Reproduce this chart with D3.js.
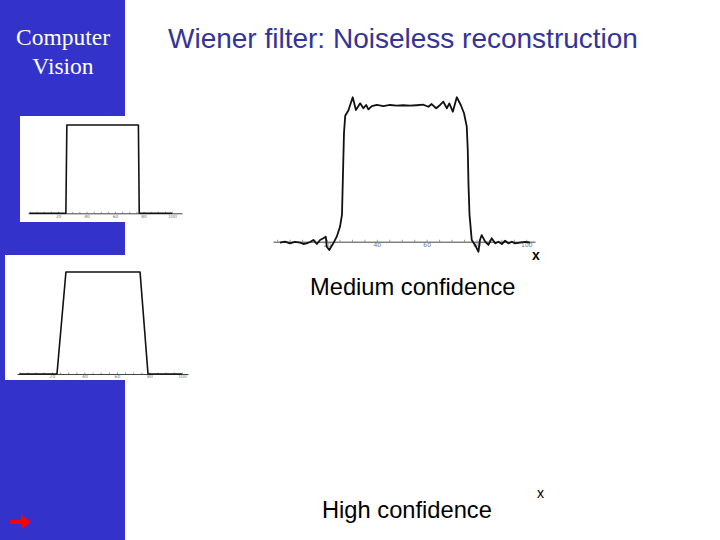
<!DOCTYPE html>
<html>
<head>
<meta charset="utf-8">
<script src="https://cdn.jsdelivr.net/npm/d3@7"></script>
<style>
  body { margin: 0; background: #fff; }
  svg { display: block; }
</style>
</head>
<body>
<svg id="slide" width="720" height="540"></svg>
<script>
// ---- data ----
const tickLabels = [20, 40, 60, 80, 100];
const minorTicks = d3.range(0, 105, 5);

// ideal box (top left plot)
const idealX = [0, 25.5, 26.2, 76.4, 77, 100];
const idealY = [0, 0, 1, 1, 0, 0];

// low-confidence reconstruction (trapezoid, lower left plot)
const lowX = [0, 23.1, 28.6, 74.2, 79.1, 100];
const lowY = [0, 0, 1, 1, 0, 0];

// medium confidence reconstruction (ringing at the edges)
const mediumX = [1.1, 3.1, 5.1, 7.1, 9.2, 10.5, 11.8, 13.2, 14.5, 15.9, 17.2, 18.5, 19.5, 19.9,
  20.9, 22.5, 23.9, 25.2, 26.0, 26.4, 26.8, 27.3, 28.6, 30.3, 31.6, 33.3, 34.6, 35.7, 36.6,
  38.0, 40.0, 42.6, 45.3, 48.0, 50.6, 53.3, 56.0, 58.7, 60.7, 62.0, 63.8, 65.4, 66.7, 68.1,
  69.1, 70.5, 72.1, 73.7, 75.0, 76.1, 76.5, 76.8, 77.2, 78.1, 79.4, 80.8, 81.4, 82.1, 83.5,
  84.8, 86.1, 87.5, 88.8, 90.2, 91.5, 92.8, 94.2, 95.5, 97.5, 99.5, 101.5];
const mediumY = [-0.007, 0, -0.012, -0.002, -0.007, -0.017, -0.012, -0.002, 0.013, -0.017, 0.013,
  0.025, 0.037, -0.037, -0.061, -0.012, 0.037, 0.11, 0.20, 0.50, 0.80, 0.93, 0.97, 1.066, 0.972,
  1.021, 0.985, 1.009, 0.977, 1.001, 1.009, 1.001, 1.009, 1.004, 1.007, 1.004, 1.007, 1.011,
  0.996, 1.016, 0.985, 1.009, 1.033, 0.985, 1.021, 0.959, 1.066, 1.009, 0.948, 0.849, 0.68,
  0.42, 0.20, 0.013, -0.024, -0.074, 0.013, 0.049, 0, -0.024, 0.025, -0.012, 0, -0.017, 0.007,
  -0.012, 0, -0.012, -0.007, -0.002, -0.007];

const svg = d3.select('#slide');

// left sidebar
svg.append('rect').attr('x', 0).attr('y', 0).attr('width', 125).attr('height', 540)
  .attr('fill', '#3333cc');

svg.append('text')
  .attr('x', 63).attr('y', 45)
  .attr('text-anchor', 'middle')
  .attr('font-family', 'Liberation Serif, Times New Roman, serif')
  .attr('font-size', 23.5).attr('fill', '#fff')
  .selectAll('tspan').data(['Computer', 'Vision']).enter().append('tspan')
  .attr('x', 63).attr('dy', (d, i) => i ? 29 : 0)
  .text(d => d);

// red arrow bottom left
svg.append('path')
  .attr('d', 'M10,520 L21,520 L21,514.5 L31,522 L21,529.5 L21,524 L10,524 Z')
  .attr('fill', '#ff0000');

// title
svg.append('text')
  .attr('x', 168).attr('y', 48)
  .attr('font-family', 'Liberation Sans, Arial, sans-serif')
  .attr('font-size', 28).attr('fill', '#333399')
  .text('Wiener filter: Noiseless reconstruction');

function drawPlot(cfg, xs, ys) {
  const g = svg.append('g');
  if (cfg.box) {
    g.append('rect').attr('x', cfg.box[0]).attr('y', cfg.box[1])
      .attr('width', cfg.box[2]).attr('height', cfg.box[3]).attr('fill', '#fff');
  }
  const x = d3.scaleLinear().domain(cfg.xDomain).range(cfg.xRange);
  const y = d3.scaleLinear().domain([0, 1]).range(cfg.yRange);

  // minor ticks (pointing up)
  const minor = g.append('g').attr('transform', `translate(0,${cfg.yRange[0]})`)
    .call(d3.axisBottom(x).tickValues(minorTicks).tickSize(-cfg.tick).tickFormat(''));
  minor.select('.domain').remove();
  minor.selectAll('line').attr('stroke', '#999');

  const axis = g.append('g').attr('transform', `translate(0,${cfg.yRange[0]})`)
    .call(d3.axisBottom(x).tickValues(tickLabels).tickSize(0).tickPadding(cfg.pad)
      .tickSizeOuter(0));
  axis.select('.domain').attr('stroke', '#444').attr('stroke-width', 1);
  axis.selectAll('text').attr('font-size', cfg.font).attr('fill', '#777')
    .attr('font-family', 'DejaVu Sans, sans-serif');

  const line = d3.line().x(d => x(d[0])).y(d => y(d[1]));
  g.append('path').datum(d3.zip(xs, ys))
    .attr('d', line).attr('fill', 'none')
    .attr('stroke', '#111').attr('stroke-width', cfg.sw)
    .attr('stroke-linejoin', 'round');
}

drawPlot({ box: [20, 116, 165, 106], xDomain: [-1, 107], xRange: [28.1, 182],
  yRange: [213.3, 125], tick: 1.5, pad: 1.5, font: 4.5, sw: 1.6 }, idealX, idealY);
drawPlot({ box: [5, 255, 183, 125], xDomain: [-1.5, 103.7], xRange: [17, 188],
  yRange: [374, 272], tick: 1.5, pad: 0.5, font: 4.5, sw: 1.6 }, lowX, lowY);
drawPlot({ xDomain: [-1.7, 103.5], xRange: [273, 535],
  yRange: [241.7, 106.2], tick: 2, pad: 1.5, font: 6, sw: 1.8 }, mediumX, mediumY);

// labels
const sans = 'Liberation Sans, Arial, sans-serif';
svg.append('text').attr('x', 310).attr('y', 295).attr('font-family', sans)
  .attr('font-size', 23.7).attr('fill', '#000').text('Medium confidence');
svg.append('text').attr('x', 322).attr('y', 518).attr('font-family', sans)
  .attr('font-size', 23.7).attr('fill', '#000').text('High confidence');
svg.append('text').attr('x', 532).attr('y', 260).attr('font-family', sans)
  .attr('font-size', 14).attr('font-weight', 'bold').attr('fill', '#000').text('x');
svg.append('text').attr('x', 537).attr('y', 498).attr('font-family', sans)
  .attr('font-size', 14).attr('fill', '#000').text('x');
</script>
</body>
</html>
